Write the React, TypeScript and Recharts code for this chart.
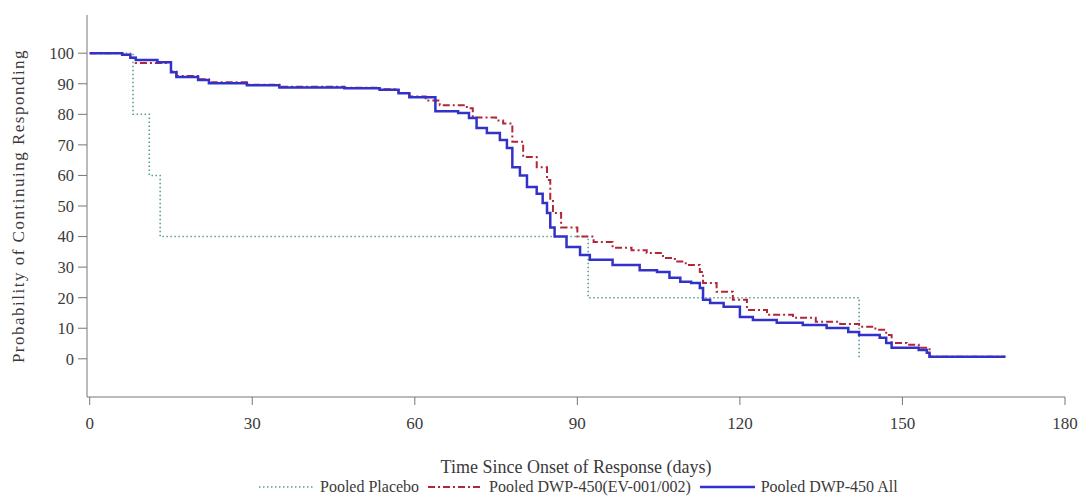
import React from 'react';
import { LineChart, Line, XAxis, YAxis, Legend, Label } from 'recharts';

const placeboTimes = [0, 8, 11, 13, 92, 142];
const placeboValues = [100, 80, 60, 40, 20, 0];

const evTimes = [0, 6, 7.5, 8.5, 15, 16, 20, 22, 29, 35, 47, 53.5, 57, 59, 62, 64.6, 69.6, 70.7, 75, 76.3, 78, 80, 82.5, 84.4, 85, 85.5, 87, 90, 93, 96.5, 100, 102.8, 105.8, 108, 110, 112.6, 113.2, 115.7, 118.7, 121.3, 125, 129.8, 134, 138.5, 142, 145, 147, 148, 150.8, 153, 155, 169];
const evValues = [100, 99.5, 98.5, 96.8, 94, 92.5, 91.5, 90.5, 89.7, 89, 88.7, 88.2, 87, 85.8, 84.5, 83, 82, 79, 78, 77, 71, 66, 62.7, 58.5, 52, 47.7, 43, 40, 38.2, 36.3, 35.5, 34.6, 33, 31.8, 30.7, 28.4, 24.8, 21.9, 19.3, 16, 14.4, 13.4, 12.1, 11.4, 10.5, 9.5, 7.8, 5.2, 4.6, 3.6, 0.7, 0.7];

const allTimes = [0, 6, 7.5, 8.5, 12.5, 15, 16, 20, 22, 29, 35, 47, 53.5, 57, 59, 63.8, 68, 70, 71.4, 73.3, 75.7, 77, 78, 79.4, 80.7, 82.5, 83.6, 84.4, 85, 85.8, 88, 90.5, 92.3, 96.5, 101.5, 104.7, 107, 109, 111, 112.6, 113.2, 114.5, 117, 120, 122.4, 126.8, 131.6, 136, 140, 142, 145.8, 147, 148, 153, 154.5, 155, 169];
const allValues = [100, 99.5, 98.5, 97.8, 97, 93.8, 92.2, 91.2, 90.2, 89.5, 88.8, 88.5, 88, 86.9, 85.6, 81, 80.4, 78.8, 75.5, 73.9, 71.6, 69, 62.7, 60, 56.2, 54, 51, 47.7, 43, 40, 36.6, 34, 32.4, 30.7, 29, 28.4, 26.5, 25.2, 24.8, 23.2, 19.3, 18.3, 17, 13.7, 12.7, 11.8, 11.1, 10.1, 8.8, 7.8, 6.9, 5.2, 3.6, 2.9, 2, 0.7, 0.7];

const xTicks = [0, 30, 60, 90, 120, 150, 180];
const yTicks = [0, 10, 20, 30, 40, 50, 60, 70, 80, 90, 100];

const seriesNames = ['Pooled Placebo', 'Pooled DWP-450(EV-001/002)', 'Pooled DWP-450 All'];

const toPoints = (t: number[], v: number[]) => t.map((x, i) => ({ t: x, v: v[i] }));

const FONT = '"Liberation Serif", "Times New Roman", serif';
const AXIS = '#777';
const TEXT = '#3a3a3a';

const styles = [
  { stroke: '#5a9e98', width: 1.6, dash: '1.5 2.5' },
  { stroke: '#b3263a', width: 2, dash: '7 3 2 3' },
  { stroke: '#3232c8', width: 2.5, dash: undefined as string | undefined },
];

const CustomLegend = () => (
  <div style={{ display: 'flex', alignItems: 'center', paddingLeft: 259, fontFamily: FONT, fontSize: 16, color: TEXT }}>
    {seriesNames.map((name, i) => (
      <div key={name} style={{ display: 'flex', alignItems: 'center', marginRight: 9 }}>
        <svg width={55} height={8} style={{ marginRight: 6 }}>
          <line x1={0} y1={4} x2={55} y2={4} stroke={styles[i].stroke} strokeWidth={styles[i].width} strokeDasharray={styles[i].dash} />
        </svg>
        <span>{name}</span>
      </div>
    ))}
  </div>
);

export default function App() {
  const series = [
    toPoints(placeboTimes, placeboValues),
    toPoints(evTimes, evValues),
    toPoints(allTimes, allValues),
  ];
  return (
    <div style={{ position: 'absolute', left: 0, top: 0, background: '#fff' }}>
      <LineChart width={1081} height={498} margin={{ top: 15, right: 16, bottom: 0, left: 0 }}>
        <XAxis
          type="number"
          dataKey="t"
          domain={[-0.5, 180]}
          ticks={xTicks}
          tickSize={8}
          tickMargin={12}
          stroke={AXIS}
          tick={{ fill: TEXT, fontSize: 17, fontFamily: FONT }}
          height={79}
          allowDataOverflow
        >
          <Label value="Time Since Onset of Response (days)" position="insideBottom" offset={3} style={{ fill: TEXT, fontSize: 18, fontFamily: FONT }} />
        </XAxis>
        <YAxis
          type="number"
          domain={[-12.5, 112.5]}
          ticks={yTicks}
          tickSize={9}
          tickMargin={4}
          stroke={AXIS}
          width={87}
          tick={{ fill: TEXT, fontSize: 16.5, fontFamily: FONT }}
          allowDataOverflow
        >
          <Label value="Probability of Continuing Responding" angle={-90} position="insideLeft" offset={18} style={{ textAnchor: 'middle', fill: TEXT, fontSize: 17, letterSpacing: 1.5, fontFamily: FONT }} />
        </YAxis>
        {series.map((d, i) => (
          <Line
            key={seriesNames[i]}
            data={d}
            dataKey="v"
            name={seriesNames[i]}
            type="stepAfter"
            stroke={styles[i].stroke}
            strokeWidth={styles[i].width}
            strokeDasharray={styles[i].dash}
            dot={false}
            activeDot={false}
            isAnimationActive={false}
          />
        ))}
        <Legend verticalAlign="bottom" content={<CustomLegend />} wrapperStyle={{ left: 0, top: 478, width: 1081 }} height={22} />
      </LineChart>
    </div>
  );
}
